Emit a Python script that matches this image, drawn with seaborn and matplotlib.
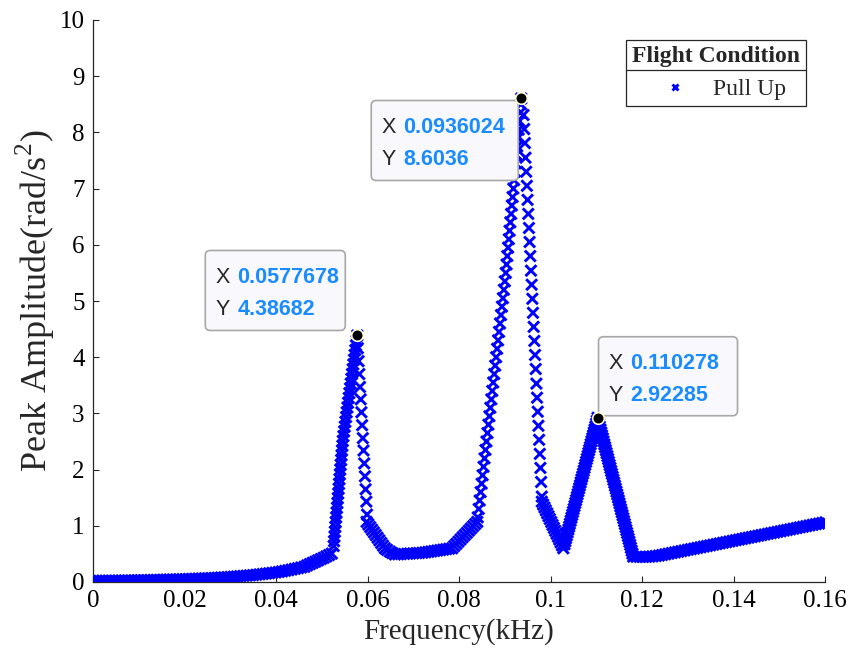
import numpy as np
import pandas as pd
import seaborn as sns
import matplotlib.pyplot as plt
import matplotlib.transforms as mtransforms
from matplotlib.patches import FancyBboxPatch
from matplotlib.lines import Line2D

# sweep data, kept in plotting order, one list pair per stretch
base_f = [0.0000, 0.0007, 0.0014, 0.0021, 0.0028, 0.0035, 0.0042, 0.0049, 0.0056, 0.0063,
          0.0070, 0.0077, 0.0084, 0.0091, 0.0098, 0.0105, 0.0112, 0.0119, 0.0126, 0.0133,
          0.0140, 0.0147, 0.0154, 0.0161, 0.0168, 0.0175, 0.0182, 0.0189, 0.0196, 0.0203,
          0.0210, 0.0217, 0.0224, 0.0231, 0.0238, 0.0245, 0.0252, 0.0259, 0.0266, 0.0273,
          0.0280, 0.0287, 0.0294, 0.0301, 0.0308, 0.0315, 0.0322, 0.0329, 0.0336, 0.0343,
          0.0350, 0.0357, 0.0364, 0.0371, 0.0378, 0.0385, 0.0392, 0.0399, 0.0406, 0.0413,
          0.0420, 0.0427, 0.0434, 0.0441, 0.0448, 0.0455, 0.0462,
          0.0468, 0.0474, 0.0480, 0.0486, 0.0492, 0.0498, 0.0504, 0.0510, 0.0516, 0.0522]
base_a = [0.020, 0.021, 0.021, 0.022, 0.022, 0.023, 0.023, 0.024, 0.025, 0.025,
          0.026, 0.027, 0.028, 0.029, 0.030, 0.031, 0.032, 0.033, 0.034, 0.036,
          0.037, 0.038, 0.040, 0.041, 0.043, 0.044, 0.046, 0.048, 0.049, 0.051,
          0.053, 0.055, 0.058, 0.060, 0.062, 0.064, 0.067, 0.070, 0.073, 0.076,
          0.080, 0.083, 0.087, 0.091, 0.095, 0.099, 0.104, 0.109, 0.113, 0.118,
          0.122, 0.129, 0.136, 0.142, 0.149, 0.156, 0.163, 0.169, 0.178, 0.188,
          0.199, 0.210, 0.222, 0.234, 0.246, 0.258, 0.270,
          0.295, 0.318, 0.340, 0.362, 0.385, 0.408, 0.430, 0.455, 0.480, 0.505]

rise1_f = [0.05260, 0.05269, 0.05278, 0.05287, 0.05296, 0.05305, 0.05315, 0.05324, 0.05333, 0.05342,
           0.05351, 0.05360, 0.05369, 0.05378, 0.05387, 0.05396, 0.05405, 0.05414, 0.05424, 0.05433,
           0.05442, 0.05451, 0.05460, 0.05474, 0.05489, 0.05503, 0.05517, 0.05532, 0.05546, 0.05561,
           0.05575, 0.05589, 0.05604, 0.05618, 0.05633, 0.05647, 0.05661, 0.05676, 0.05690, 0.05705,
           0.05719, 0.05733, 0.05748, 0.05762, 0.0577678]
rise1_a = [0.640, 0.725, 0.810, 0.895, 0.980, 1.065, 1.150, 1.235, 1.320, 1.405,
           1.490, 1.575, 1.660, 1.745, 1.830, 1.915, 2.000, 2.085, 2.170, 2.255,
           2.340, 2.425, 2.510, 2.595, 2.680, 2.765, 2.850, 2.935, 3.020, 3.105,
           3.190, 3.275, 3.360, 3.445, 3.530, 3.615, 3.700, 3.785, 3.870, 3.955,
           4.040, 4.125, 4.210, 4.295, 4.38682]

fall1_f = [0.05790, 0.05805, 0.05821, 0.05836, 0.05852, 0.05867, 0.05882, 0.05898, 0.05913, 0.05929,
           0.05944, 0.05959, 0.05975, 0.05990]
fall1_a = [4.16, 3.93, 3.70, 3.47, 3.25, 3.02, 2.79, 2.56, 2.34, 2.11,
           1.88, 1.65, 1.43, 1.20]

valley1_f = [0.0598, 0.0602, 0.0606, 0.0610, 0.0614, 0.0618, 0.0622, 0.0626, 0.0630, 0.0634,
             0.0638, 0.0643, 0.0649, 0.0654, 0.0660, 0.0667, 0.0673, 0.0680, 0.0687, 0.0693,
             0.0700, 0.0707, 0.0713, 0.0720, 0.07265, 0.0733, 0.07395, 0.0746, 0.07525, 0.0759,
             0.07655, 0.0772, 0.07785, 0.0785, 0.07896, 0.07942, 0.07988, 0.08033, 0.08079, 0.08125,
             0.08171, 0.08217, 0.08262, 0.08308, 0.08354, 0.08400]
valley1_a = [1.070, 1.023, 0.976, 0.929, 0.882, 0.835, 0.788, 0.741, 0.694, 0.647,
             0.600, 0.570, 0.540, 0.515, 0.490, 0.493, 0.497, 0.500, 0.503, 0.507,
             0.510, 0.513, 0.517, 0.520, 0.528, 0.536, 0.544, 0.552, 0.560, 0.568,
             0.576, 0.584, 0.592, 0.600, 0.639, 0.678, 0.718, 0.757, 0.796, 0.835,
             0.874, 0.914, 0.953, 0.992, 1.031, 1.070]

rise2_f = [0.08410, 0.08431, 0.08452, 0.08473, 0.08495, 0.08516, 0.08537, 0.08558, 0.08579, 0.08600,
           0.08622, 0.08643, 0.08664, 0.08685, 0.08706, 0.08727, 0.08748, 0.08770, 0.08791, 0.08812,
           0.08833, 0.08854, 0.08875, 0.08897, 0.08918, 0.08939, 0.08960, 0.08981, 0.09002, 0.09023,
           0.09040, 0.09056, 0.09073, 0.09089, 0.09106, 0.09122, 0.09139, 0.09155, 0.09172, 0.09188,
           0.09205, 0.09221, 0.09238, 0.09254, 0.09271, 0.09287, 0.09304, 0.09320, 0.09337, 0.09353,
           0.0936024]
rise2_a = [1.15, 1.30, 1.45, 1.60, 1.75, 1.90, 2.05, 2.20, 2.35, 2.50,
           2.65, 2.80, 2.95, 3.10, 3.25, 3.40, 3.55, 3.70, 3.85, 4.00,
           4.15, 4.30, 4.45, 4.60, 4.75, 4.90, 5.05, 5.20, 5.35, 5.50,
           5.65, 5.80, 5.95, 6.10, 6.25, 6.40, 6.55, 6.70, 6.85, 7.00,
           7.15, 7.30, 7.45, 7.60, 7.75, 7.90, 8.05, 8.20, 8.35, 8.50,
           8.6036]

fall2_f = [0.09410, 0.09425, 0.09440, 0.09454, 0.09469, 0.09484, 0.09499, 0.09514, 0.09529, 0.09543,
           0.09558, 0.09573, 0.09588, 0.09603, 0.09617, 0.09632, 0.09647, 0.09662, 0.09677, 0.09692,
           0.09706, 0.09721, 0.09736, 0.09751, 0.09766, 0.09780, 0.09795, 0.09810]
fall2_a = [8.31, 8.06, 7.81, 7.55, 7.30, 7.05, 6.80, 6.55, 6.30, 6.05,
           5.80, 5.54, 5.29, 5.04, 4.79, 4.54, 4.29, 4.04, 3.79, 3.53,
           3.28, 3.03, 2.78, 2.53, 2.28, 2.03, 1.78, 1.52]

valley2_f = [0.09810, 0.09839, 0.09869, 0.09898, 0.09928, 0.09957, 0.09986, 0.10016, 0.10045, 0.10074,
             0.10104, 0.10133, 0.10163, 0.10192, 0.10221, 0.10251, 0.10280]
valley2_a = [1.430, 1.378, 1.326, 1.274, 1.222, 1.171, 1.119, 1.067, 1.015, 0.963,
             0.911, 0.859, 0.807, 0.756, 0.704, 0.652, 0.600]

rise3_f = [0.10307, 0.10324, 0.10340, 0.10357, 0.10374, 0.10391, 0.10408, 0.10424, 0.10441, 0.10458,
           0.10475, 0.10492, 0.10508, 0.10525, 0.10542, 0.10559, 0.10576, 0.10592, 0.10609, 0.10626,
           0.10643, 0.10660, 0.10676, 0.10693, 0.10710, 0.10727, 0.10744, 0.10760, 0.10777, 0.10794,
           0.10811, 0.10828, 0.10844, 0.10861, 0.10878, 0.10895, 0.10912, 0.10928, 0.10945, 0.10962,
           0.10979, 0.10996, 0.11012, 0.110278]
rise3_a = [0.672, 0.725, 0.777, 0.829, 0.882, 0.934, 0.986, 1.038, 1.091, 1.143,
           1.195, 1.248, 1.300, 1.352, 1.405, 1.457, 1.509, 1.561, 1.614, 1.666,
           1.718, 1.771, 1.823, 1.875, 1.928, 1.980, 2.032, 2.084, 2.137, 2.189,
           2.241, 2.294, 2.346, 2.398, 2.451, 2.503, 2.555, 2.607, 2.660, 2.712,
           2.764, 2.817, 2.869, 2.92285]

fall3_f = [0.11044, 0.11061, 0.11078, 0.11094, 0.11111, 0.11127, 0.11144, 0.11160, 0.11177, 0.11194,
           0.11210, 0.11227, 0.11244, 0.11260, 0.11277, 0.11293, 0.11310, 0.11326, 0.11343, 0.11360,
           0.11376, 0.11393, 0.11410, 0.11426, 0.11443, 0.11459, 0.11476, 0.11493, 0.11509, 0.11526,
           0.11542, 0.11559, 0.11576, 0.11592, 0.11609, 0.11625, 0.11642, 0.11658, 0.11675, 0.11692,
           0.11708, 0.11725, 0.11742, 0.11758, 0.11775, 0.11791, 0.11808]
fall3_a = [2.870, 2.818, 2.765, 2.712, 2.660, 2.607, 2.555, 2.502, 2.449, 2.397,
           2.344, 2.292, 2.239, 2.187, 2.134, 2.081, 2.029, 1.976, 1.924, 1.871,
           1.818, 1.766, 1.713, 1.661, 1.608, 1.556, 1.503, 1.450, 1.398, 1.345,
           1.292, 1.240, 1.187, 1.135, 1.082, 1.030, 0.977, 0.924, 0.872, 0.819,
           0.767, 0.714, 0.661, 0.609, 0.556, 0.504, 0.451]

tail_f = [0.1188, 0.1195, 0.1202, 0.1209, 0.1216, 0.1223, 0.1230,
          0.1237, 0.1244, 0.1251, 0.1258, 0.1265, 0.1272, 0.1279, 0.1286, 0.1293, 0.1300,
          0.1307, 0.1314, 0.1321, 0.1328, 0.1335, 0.1342, 0.1349, 0.1356, 0.1363, 0.1370,
          0.1377, 0.1384, 0.1391, 0.1398, 0.1405, 0.1412, 0.1419, 0.1426, 0.1433, 0.1440,
          0.1447, 0.1454, 0.1461, 0.1468, 0.1475, 0.1482, 0.1489, 0.1496, 0.1503, 0.1510,
          0.1517, 0.1524, 0.1531, 0.1538, 0.1545, 0.1552, 0.1559, 0.1566, 0.1573, 0.1580,
          0.1587, 0.1594, 0.1601]
tail_a = [0.448, 0.447, 0.447, 0.448, 0.450, 0.455, 0.462,
          0.470, 0.481, 0.493, 0.504, 0.516, 0.527, 0.538, 0.550, 0.561, 0.573,
          0.584, 0.595, 0.607, 0.618, 0.630, 0.641, 0.652, 0.664, 0.675, 0.687,
          0.698, 0.709, 0.721, 0.732, 0.744, 0.755, 0.766, 0.778, 0.789, 0.801,
          0.812, 0.823, 0.835, 0.846, 0.858, 0.869, 0.880, 0.892, 0.903, 0.915,
          0.926, 0.937, 0.949, 0.960, 0.972, 0.983, 0.994, 1.006, 1.017, 1.029,
          1.040, 1.051, 1.063]

# data tips
tip_f = [0.0577678, 0.0936024, 0.110278]
tip_a = [4.38682, 8.6036, 2.92285]

xticks = [0, 0.02, 0.04, 0.06, 0.08, 0.1, 0.12, 0.14, 0.16]
xticklabels = ["0", "0.02", "0.04", "0.06", "0.08", "0.1", "0.12", "0.14", "0.16"]
yticks = list(range(0, 11))

pieces = [(base_f, base_a), (rise1_f, rise1_a), (fall1_f, fall1_a), (valley1_f, valley1_a),
          (rise2_f, rise2_a), (fall2_f, fall2_a), (valley2_f, valley2_a), (rise3_f, rise3_a),
          (fall3_f, fall3_a), (tail_f, tail_a)]
df = pd.concat([pd.DataFrame({"freq": f, "amp": a}) for f, a in pieces], ignore_index=True)
df["cond"] = "Pull Up"

sns.set_style("ticks")
plt.rcParams["font.family"] = ["Liberation Serif", "DejaVu Serif"]
plt.rcParams["mathtext.fontset"] = "custom"
plt.rcParams["mathtext.rm"] = "Liberation Serif"

fig = plt.figure(figsize=(8.6, 6.58), dpi=100)
ax = fig.add_axes([93 / 860, 76 / 658, 732 / 860, 562 / 658])

sns.scatterplot(data=df, x="freq", y="amp", hue="cond", palette=["#0000ff"], marker="x",
                s=62, linewidth=2.1, ax=ax, zorder=3)

ax.set_xlim(0, 0.16)
ax.set_ylim(0, 10)
ax.set_xticks(xticks)
ax.set_xticklabels(xticklabels)
ax.set_yticks(yticks)
ax.tick_params(direction="in", length=4.5, width=0.8, labelsize=18, colors="#262626",
               labelcolor="black", pad=6)
for side in ["top", "right"]:
    ax.spines[side].set_visible(False)
for side in ["left", "bottom"]:
    ax.spines[side].set_color("#262626")
    ax.spines[side].set_linewidth(0.9)
ax.set_xlabel("Frequency(kHz)", fontsize=21, labelpad=4)
ax.set_ylabel("Peak Amplitude(rad/s$^2$)", fontsize=26, labelpad=2)

leg = ax.legend(title="Flight Condition", loc="upper right", bbox_to_anchor=(0.974, 0.964),
                borderaxespad=0, fancybox=False, edgecolor="#262626", framealpha=1,
                fontsize=17, title_fontproperties={"weight": "bold", "size": 17},
                markerscale=0.6, handlelength=2.45, handletextpad=0.35, borderpad=0.25)
leg.get_frame().set_linewidth(0.9)

# data tips: black dot, rounded box, X/Y rows
ident = mtransforms.IdentityTransform()
box_spec = [(-152, 5, 140, 80), (-150, -82, 147, 80), (1, 2, 139, 79)]
for f, a, (bx, by, bw, bh) in zip(tip_f, tip_a, box_spec):
    px, py = ax.transData.transform((f, a))
    ax.add_patch(FancyBboxPatch((px + bx, py + by), bw, bh,
                                boxstyle="round,pad=0,rounding_size=5", transform=ident,
                                facecolor="#f8f8fd", edgecolor="#a8a8a8", linewidth=1.2,
                                zorder=5, clip_on=False))
    top = py + by + bh
    for label, val, dy in [("X", f, 27), ("Y", a, 59)]:
        ax.text(px + bx + 10, top - dy, label, transform=ident, fontsize=15.5,
                family="Liberation Sans", color="#262626", va="center", ha="left", zorder=6)
        ax.text(px + bx + 32, top - dy, str(val), transform=ident, fontsize=15.5,
                family="Liberation Sans", weight="bold", color="#1a8cff", va="center",
                ha="left", zorder=6)
ax.scatter(tip_f, tip_a, s=70, color="black", edgecolor="#ffffd0", linewidth=1.2,
           zorder=7, clip_on=False)

# separator under the legend title
fig.canvas.draw()
r = fig.canvas.get_renderer()
fb = leg.get_frame().get_window_extent(r)
tb = leg.get_title().get_window_extent(r)
ysep = tb.y0 - 3
fig.add_artist(Line2D([fb.x0, fb.x1], [ysep, ysep], transform=ident, color="#262626",
                      linewidth=0.9))

fig.savefig("out.png", dpi=100)
